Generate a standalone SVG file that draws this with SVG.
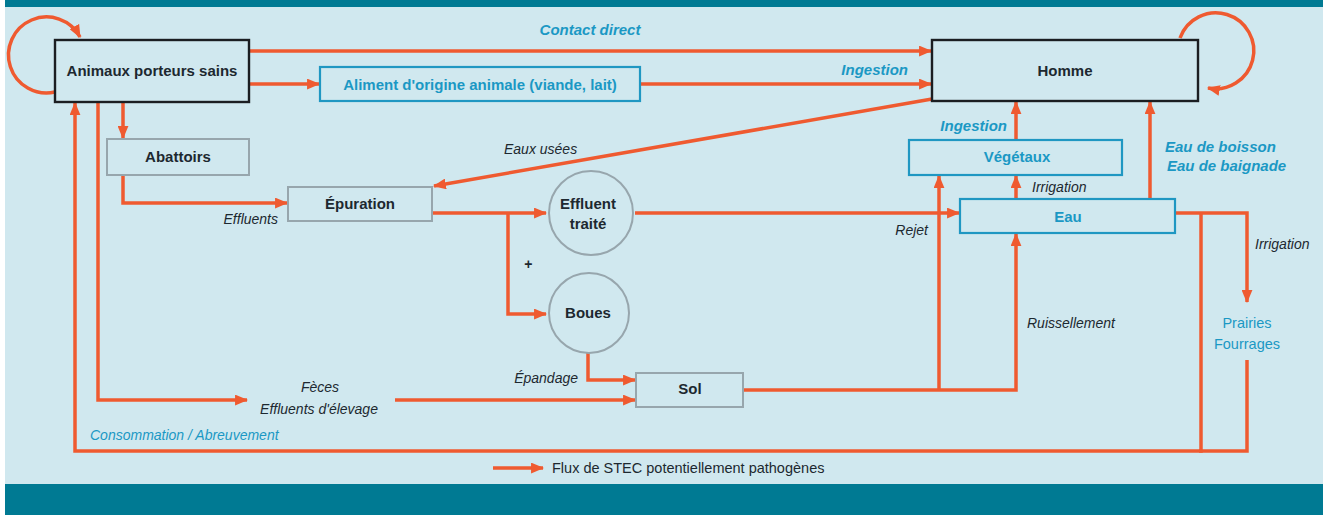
<svg xmlns="http://www.w3.org/2000/svg" width="1323" height="515" viewBox="0 0 1323 515">
<defs>
<style>
.bg{fill:#d0e8ef}
.band{fill:#007a93}
.nb{fill:none;stroke:#1b1e22;stroke-width:2.4}
.bb{fill:none;stroke:#1f97c2;stroke-width:2.2}
.gb{fill:none;stroke:#97a6ad;stroke-width:2}
.t{font-family:"Liberation Sans",Arial,sans-serif;font-size:15px;font-weight:bold;fill:#1d2830;text-anchor:middle}
.tb{font-family:"Liberation Sans",Arial,sans-serif;font-size:15px;font-weight:bold;fill:#1b98c4;text-anchor:middle}
.lb{font-family:"Liberation Sans",Arial,sans-serif;font-size:15px;font-weight:bold;font-style:italic;fill:#1b98c4}
.li{font-family:"Liberation Sans",Arial,sans-serif;font-size:14px;font-style:italic;fill:#1d2830}
.lc{font-family:"Liberation Sans",Arial,sans-serif;font-size:14px;font-style:italic;fill:#1b98c4}
.pr{font-family:"Liberation Sans",Arial,sans-serif;font-size:14.5px;fill:#1b98c4;text-anchor:middle}
.c{fill:none;stroke:#ef5a30;stroke-width:3.5}
.ca{fill:none;stroke:#ef5a30;stroke-width:3.5;marker-end:url(#ah)}
</style>
<marker id="ah" viewBox="0 0 12 10" refX="11" refY="5" markerWidth="13" markerHeight="11" markerUnits="userSpaceOnUse" orient="auto">
<path d="M0,0 L12,5 L0,10 z" fill="#ef5a30"/>
</marker>
</defs>
<rect x="0" y="0" width="1323" height="515" fill="#ffffff"/>
<rect class="bg" x="5" y="0" width="1318" height="484"/>
<rect class="band" x="5" y="0" width="1318" height="7"/>
<rect class="band" x="5" y="484" width="1318" height="31"/>

<g id="connectors">
<path class="ca" d="M55,92 A38,38 0 1 1 80,37"/>
<path class="ca" d="M1180,38 A38,38 0 1 1 1208,88"/>
<path class="ca" d="M249,51 H931"/>
<path class="ca" d="M249,84 H319"/>
<path class="ca" d="M640,84 H931"/>
<path class="ca" d="M932,99 L434,186"/>
<path class="ca" d="M123,102 V138"/>
<path class="ca" d="M123,175 V203 H287"/>
<path class="ca" d="M432,213 H546"/>
<path class="ca" d="M508,213 V314 H546"/>
<path class="ca" d="M635,213 H959"/>
<path class="ca" d="M588,352 V380 H635"/>
<path class="ca" d="M98,102 V400 H247"/>
<path class="ca" d="M395,400 H635"/>
<path class="ca" d="M743,390 H1016 V234"/>
<path class="ca" d="M939,390 V176"/>
<path class="ca" d="M1016,199 V176"/>
<path class="ca" d="M1016,140 V102"/>
<path class="ca" d="M1150,199 V102"/>
<path class="ca" d="M1175,213 H1247 V302"/>
<path class="ca" d="M1201,213 V451 H75 V103"/>
<path class="c" d="M1247,360 V451 H1199"/>
</g>

<g id="animaux"><rect class="nb" x="55" y="40" width="194" height="62"/><text class="t" x="152" y="76">Animaux porteurs sains</text></g>
<g id="aliment"><rect class="bb" x="320" y="67" width="320" height="34"/><text class="tb" x="480" y="90">Aliment d'origine animale (viande, lait)</text></g>
<g id="homme"><rect class="nb" x="932" y="40" width="266" height="61"/><text class="t" x="1065" y="76">Homme</text></g>
<g id="abattoirs"><rect class="gb" x="107" y="139" width="142" height="36"/><text class="t" x="178" y="162">Abattoirs</text></g>
<g id="epuration"><rect class="gb" x="288" y="187" width="144" height="34"/><text class="t" x="360" y="209">Épuration</text></g>
<g id="effluent"><circle class="gb" cx="591" cy="213" r="42"/><text class="t" x="588" y="209">Effluent</text><text class="t" x="588" y="229">traité</text></g>
<g id="boues"><circle class="gb" cx="589" cy="313" r="40"/><text class="t" x="588" y="318">Boues</text></g>
<g id="sol"><rect class="gb" x="636" y="373" width="107" height="34"/><text class="t" x="690" y="394">Sol</text></g>
<g id="vegetaux"><rect class="bb" x="909" y="140" width="213" height="35"/><text class="tb" x="1017" y="162">Végétaux</text></g>
<g id="eau"><rect class="bb" x="960" y="199" width="215" height="34"/><text class="tb" x="1068" y="222">Eau</text></g>
<g id="prairies"><text class="pr" x="1247" y="328">Prairies</text><text class="pr" x="1247" y="349">Fourrages</text></g>
<g id="feces"><text class="li" x="320" y="392" text-anchor="middle">Fèces</text><text class="li" x="319" y="414" text-anchor="middle">Effluents d'élevage</text></g>

<g id="labels">
<text class="lb" x="590" y="35" text-anchor="middle">Contact direct</text>
<text class="lb" x="908" y="75" text-anchor="end">Ingestion</text>
<text class="li" x="504" y="154">Eaux usées</text>
<text class="li" x="278" y="224" text-anchor="end">Effluents</text>
<text class="li" x="528" y="269" text-anchor="middle" font-style="normal" font-weight="bold">+</text>
<text class="li" x="928" y="235" text-anchor="end">Rejet</text>
<text class="li" x="1032" y="192">Irrigation</text>
<text class="li" x="1255" y="249">Irrigation</text>
<text class="li" x="1027" y="328">Ruissellement</text>
<text class="lb" x="1007" y="131" text-anchor="end">Ingestion</text>
<text class="lb" x="1165" y="152">Eau de boisson</text>
<text class="lb" x="1167" y="171">Eau de baignade</text>
<text class="li" x="578" y="383" text-anchor="end">Épandage</text>
<text class="lc" x="90" y="440">Consommation / Abreuvement</text>
</g>

<g id="legend">
<path class="ca" d="M493,468 H543"/>
<text x="552" y="473" font-family="Liberation Sans, Arial, sans-serif" font-size="14.5" fill="#1d2830">Flux de STEC potentiellement pathogènes</text>
</g>
</svg>
